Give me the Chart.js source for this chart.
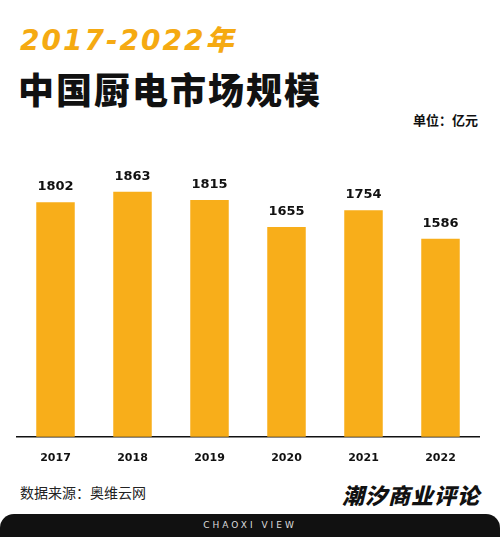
<!DOCTYPE html>
<html><head><meta charset="utf-8">
<script src="https://cdn.jsdelivr.net/npm/chart.js@4"></script>
<style>
body{margin:0;width:500px;height:537px;background:#fff;position:relative;overflow:hidden;font-family:"Noto Sans CJK SC",sans-serif}
.t1{position:absolute;left:20px;top:18px;font-size:28px;font-weight:900;color:#F5AA12;letter-spacing:2px;font-family:"DejaVu Sans","Noto Sans CJK SC";font-style:italic}
.t2{position:absolute;left:18px;top:62px;font-size:36px;font-weight:900;color:#111;letter-spacing:2px}
.unit{position:absolute;right:22px;top:110px;font-size:13px;font-weight:700;color:#111}
.src{position:absolute;left:20px;top:482px;font-size:14px;color:#222}
.brand{position:absolute;right:20px;top:478px;font-size:22px;font-weight:900;font-style:italic;color:#111;letter-spacing:1px}
.bar{position:absolute;left:0;top:514px;width:500px;height:23px;background:#111;border-radius:14px 14px 0 0;color:#ddd;font-size:9px;letter-spacing:3px;text-align:center;line-height:23px;font-family:"DejaVu Sans"}
#c{position:absolute;left:0;top:150px}
</style></head><body>
<div class="t1">2017-2022年</div>
<div class="t2">中国厨电市场规模</div>
<div class="unit">单位：亿元</div>
<div class="src">数据来源：奥维云网</div>
<div class="brand">潮汐商业评论</div>
<div class="bar">CHAOXI VIEW</div>
<canvas id="c" width="500" height="330"></canvas>
<script>
const years=["2017","2018","2019","2020","2021","2022"];
const values=[1802,1863,1815,1655,1754,1586];
const labelsPlugin={id:'lbl',afterDatasetsDraw(ch){const c=ch.ctx;const m=ch.getDatasetMeta(0);c.save();c.font='900 13px "DejaVu Sans"';c.fillStyle='#111';c.textAlign='center';c.textBaseline='bottom';m.data.forEach((b,i)=>c.fillText(values[i],b.x,b.y-9));c.restore();}};
new Chart(document.getElementById('c'),{type:'bar',data:{labels:years,datasets:[{data:values,backgroundColor:'#F8AE1A',barPercentage:0.5,categoryPercentage:1}]},
options:{responsive:false,animation:false,plugins:{legend:{display:false},tooltip:{enabled:false}},
layout:{padding:{left:17,right:21,top:27,bottom:0}},
scales:{y:{display:false,min:420,max:1950},x:{grid:{display:false,drawTicks:false},border:{color:'#111',width:1.5},ticks:{color:'#111',font:{family:'DejaVu Sans',weight:'900',size:11},padding:15}}}},plugins:[labelsPlugin]});
</script></body></html>
